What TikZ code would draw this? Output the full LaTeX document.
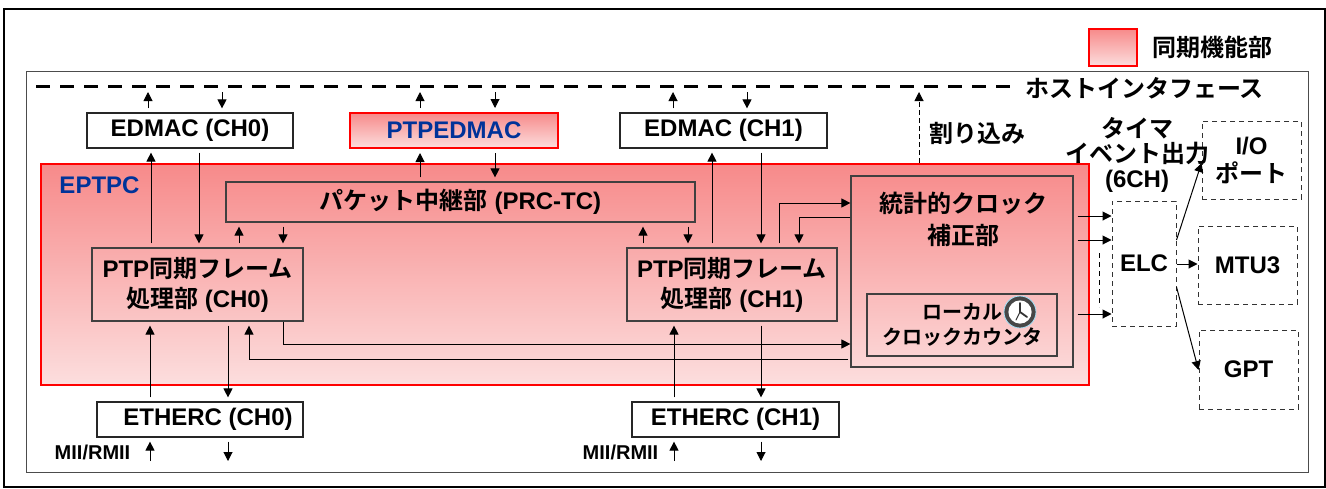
\documentclass[tikz,border=0pt]{standalone}
\usepackage{fontspec}
\setmainfont{Liberation Sans}
\newfontfamily\jpfont{Noto Sans CJK JP}[BoldFont={Noto Sans CJK JP Bold}]
\usetikzlibrary{arrows.meta,positioning}
\definecolor{eptpcblue}{RGB}{0,51,153}
\definecolor{synctop}{RGB}{247,138,138}
\definecolor{syncbot}{RGB}{252,222,222}
\newcommand{\jp}[1]{{\jpfont #1}}

\begin{document}
\begin{tikzpicture}[x=0.5pt,y=-0.5pt,>={Triangle[length=4.5pt,width=4.5pt]},
    font=\bfseries\fontsize{12}{15}\selectfont,
    hostbox/.style={draw=black!85, fill=white, line width=0.6pt, minimum height=17.5pt, inner sep=0pt},
    syncbox/.style={draw=red, line width=1pt, top color=synctop, bottom color=syncbot, inner sep=0pt},
    unitbox/.style={draw=black!75, line width=0.6pt, inner sep=0pt, align=center},
    extbox/.style={draw=black!80, dash pattern=on 2.5pt off 2pt, line width=0.5pt, fill=white, inner sep=0pt, align=center},
    flow/.style={->, line width=0.5pt, shorten <=2pt, shorten >=2pt}]
    \useasboundingbox (0,0) rectangle (1326,488);
    \draw[line width=1pt] (4,9) rectangle (1325,487);
    \draw[line width=0.5pt, black!70] (26,71) rectangle (1308,472);
    % legend and host interface
    \node[syncbox, line width=1.2pt, minimum width=24pt, minimum height=18.5pt] (legendbox) at (1113,47.5) {};
    \node[anchor=west] (legendtext) at (1145,47) {\jp{同期機能部}};
    \coordinate (hostL) at (36,86);
    \coordinate (hostR) at (1012,86);
    \draw[line width=1.5pt, dash pattern=on 7pt off 5pt] (hostL) -- (hostR);
    \node[anchor=west] (hostlabel) at (1018,88) {\jp{ホストインタフェース}};
    \node[hostbox, minimum width=103pt] (edmac0) at (190,130.5) {EDMAC (CH0)};
    \node[syncbox, minimum width=104pt, minimum height=17.5pt, text=eptpcblue] (ptpedmac) at (454,130.5) {PTPEDMAC};
    \node[hostbox, minimum width=103.5pt] (edmac1) at (723.5,130.5) {EDMAC (CH1)};
    \node (irqlabel) at (977,133) {\jp{割り込み}};
    % EPTPC
    \node[syncbox, minimum width=524pt, minimum height=110.5pt] (eptpc) at (565,274.5) {};
    \node[text=eptpcblue] (eptpclabel) at (99.5,185) {EPTPC};
    \node[unitbox, minimum width=234.5pt, minimum height=20pt] (prc) at (460.5,202) {\jp{パケット中継部} (PRC-TC)};
    \node[unitbox, minimum width=105.5pt, minimum height=36.5pt] (ptp0) at (197.5,284.5) {PTP\jp{同期フレーム}\\\jp{処理部} (CH0)};
    \node[unitbox, minimum width=105pt, minimum height=36.5pt] (ptp1) at (732,284.5) {PTP\jp{同期フレーム}\\\jp{処理部} (CH1)};
    \node[unitbox, minimum width=111pt, minimum height=95.5pt] (stat) at (962,271.5) {};
    \node[align=center, font=\bfseries\fontsize{12}{16}\selectfont] (statlabel) at (963,219) {\jp{統計的クロック}\\\jp{補正部}};
    \node[unitbox, minimum width=95pt, minimum height=31pt, font=\bfseries\fontsize{10}{12.5}\selectfont] (local) at (962,325) {\jp{ローカル}\\\jp{クロックカウンタ}};
    \node[circle, draw=cyan!35, line width=0.4pt, fill=black!72, minimum size=16pt, inner sep=0pt] (clock) at (1020,312) {};
    \fill[white] (clock.center) circle (5.8pt);
    \draw[line width=0.9pt, black!80, line cap=round] (clock.center) -- ++(0,-9);
    \draw[line width=0.9pt, black!80, line cap=round] (clock.center) -- ++(7,5);
    \draw[line width=0.5pt, black!80, line cap=round] (clock.center) -- ++(-4,8);
    % ETHERC
    \node[hostbox, minimum width=103pt] (ether0) at (200,419.5) {\hspace{8pt}ETHERC (CH0)};
    \node[hostbox, minimum width=103.5pt] (ether1) at (735.5,419.5) {ETHERC (CH1)};
    \node[font=\bfseries\fontsize{10}{12}\selectfont] (mii0) at (92.5,452) {MII/RMII};
    \node[font=\bfseries\fontsize{10}{12}\selectfont] (mii1) at (620.5,452) {MII/RMII};
    \coordinate (mii0in) at (150,461);
    \coordinate (mii0out) at (228,461);
    \coordinate (mii1in) at (674,461);
    \coordinate (mii1out) at (761,461);
    % timers
    \node[extbox, minimum width=32pt, minimum height=62.5pt] (elc) at (1144,263.5) {ELC};
    \node[extbox, minimum width=49.5pt, minimum height=39pt, font=\bfseries\fontsize{12}{14}\selectfont] (io) at (1251.5,160) {I/O\\\jp{ポート}};
    \node[extbox, minimum width=49.5pt, minimum height=39pt] (mtu) at (1247.5,265) {MTU3};
    \node[extbox, minimum width=49.5pt, minimum height=39.5pt] (gpt) at (1248.5,369.5) {GPT};
    \node[align=center, font=\bfseries\fontsize{12}{12.5}\selectfont] (timerlabel) at (1137,155) {\jp{タイマ}\\\jp{イベント出力}\\(6CH)};
    \draw[line width=0.5pt, dash pattern=on 2.5pt off 2pt] (1099,253) -- (1099,307);
    % host interface arrows
    \draw[flow, shorten >=3pt] (edmac0.north -| 148,0) -- (148,0 |- hostL);
    \draw[flow, shorten <=3pt] (222,0 |- hostL) -- (edmac0.north -| 222,0);
    \draw[flow, shorten >=3pt] (ptpedmac.north -| 420,0) -- (420,0 |- hostL);
    \draw[flow, shorten <=3pt] (495,0 |- hostL) -- (ptpedmac.north -| 495,0);
    \draw[flow, shorten >=3pt] (edmac1.north -| 673,0) -- (673,0 |- hostL);
    \draw[flow, shorten <=3pt] (747,0 |- hostL) -- (edmac1.north -| 747,0);
    \draw[flow, shorten >=3pt, shorten <=0pt, dash pattern=on 2.5pt off 1.5pt] (eptpc.north -| 919,0) -- (919,0 |- hostL);
    % EDMAC, PTPEDMAC and PRC-TC
    \draw[flow] (ptp0.north -| 151,0) -- (edmac0.south -| 151,0);
    \draw[flow] (edmac0.south -| 199,0) -- (ptp0.north -| 199,0);
    \draw[flow] (ptp1.north -| 712,0) -- (edmac1.south -| 712,0);
    \draw[flow] (edmac1.south -| 761,0) -- (ptp1.north -| 761,0);
    \draw[flow] (prc.north -| 420,0) -- (ptpedmac.south -| 420,0);
    \draw[flow] (ptpedmac.south -| 495,0) -- (prc.north -| 495,0);
    \draw[flow] (ptp0.north -| 239,0) -- (prc.south -| 239,0);
    \draw[flow] (prc.south -| 283,0) -- (ptp0.north -| 283,0);
    \draw[flow] (ptp1.north -| 643,0) -- (prc.south -| 643,0);
    \draw[flow] (prc.south -| 688,0) -- (ptp1.north -| 688,0);
    % clock correction
    \draw[flow, shorten >=0pt] (ptp1.north -| 779,0) |- (stat.west |- 0,203);
    \draw[flow, shorten <=0pt] (stat.west |- 0,217) -| (ptp1.north -| 799,0);
    \draw[flow, shorten <=0pt, shorten >=0pt] (ptp0.south -| 283,0) |- (stat.west |- 0,344);
    \draw[flow, shorten <=1pt] (stat.west |- 0,359) -| (ptp0.south -| 249,0);
    % ETHERC arrows
    \draw[flow] (ether0.north -| 150,0) -- (ptp0.south -| 150,0);
    \draw[flow] (ptp0.south -| 228,0) -- (ether0.north -| 228,0);
    \draw[flow] (ether1.north -| 674,0) -- (ptp1.south -| 674,0);
    \draw[flow] (ptp1.south -| 761,0) -- (ether1.north -| 761,0);
    \draw[flow, shorten <=0pt] (mii0in) -- (ether0.south -| mii0in);
    \draw[flow, shorten >=0pt] (ether0.south -| mii0out) -- (mii0out);
    \draw[flow, shorten <=0pt] (mii1in) -- (ether1.south -| mii1in);
    \draw[flow, shorten >=0pt] (ether1.south -| mii1out) -- (mii1out);
    % ELC arrows
    \draw[flow, shorten >=0pt] (stat.east |- 0,216) -- (elc.west |- 0,216);
    \draw[flow, shorten >=0pt] (stat.east |- 0,240) -- (elc.west |- 0,240);
    \draw[flow, shorten >=0pt] (stat.east |- 0,314) -- (elc.west |- 0,314);
    \draw[flow, shorten <=0pt, shorten >=0pt] (elc.east |- 0,240) -- (io.west |- 0,163);
    \draw[flow, shorten <=0pt, shorten >=0pt] (elc.east |- 0,264) -- (mtu.west |- 0,264);
    \draw[flow, shorten <=0pt, shorten >=0pt] (elc.east |- 0,287) -- (gpt.west |- 0,370);
\end{tikzpicture}
\end{document}
